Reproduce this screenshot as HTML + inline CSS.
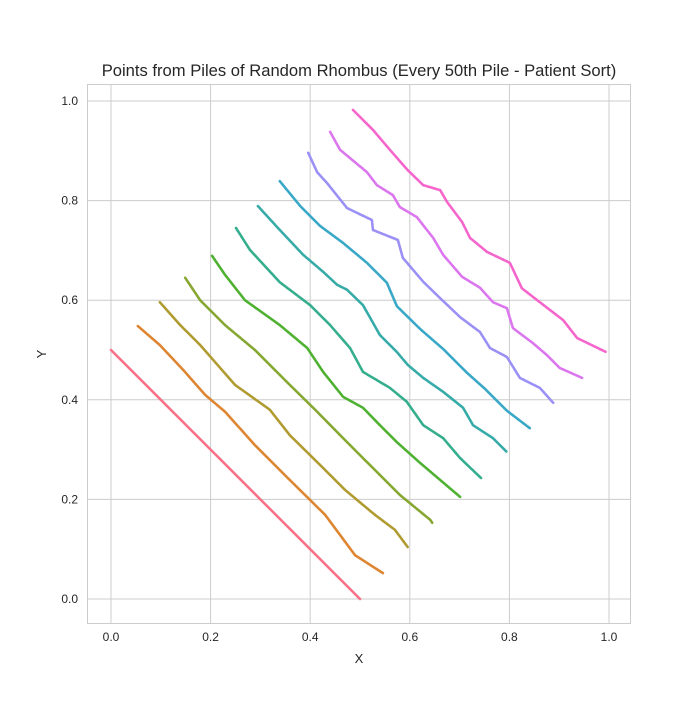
<!DOCTYPE html>
<html><head><meta charset="utf-8"><style>
body{margin:0;background:#fff;font-family:"Liberation Sans",sans-serif}
</style></head><body>
<svg id="chart" width="700" height="700" xmlns="http://www.w3.org/2000/svg" font-family="Liberation Sans, sans-serif">
<rect width="700" height="700" fill="#fff"/>
<g id="grid"></g>
<rect x="87.5" y="84.5" width="543" height="539" fill="none" stroke="#cccccc" stroke-width="1"/>
<g id="marks"></g>
<g id="ticks"></g>
<text x="359" y="76" text-anchor="middle" font-size="16.6" fill="#262626">Points from Piles of Random Rhombus (Every 50th Pile - Patient Sort)</text>
<text x="359" y="663" text-anchor="middle" font-size="13" fill="#262626">X</text>
<text x="46" y="354" text-anchor="middle" font-size="13" fill="#262626" transform="rotate(-90 46 354)">Y</text>
</svg>
<script>
const xTicks=[0,0.2,0.4,0.6,0.8,1.0];
const yTicks=[0,0.2,0.4,0.6,0.8,1.0];
const colors=['#f77189','#de8532','#b09b31','#86a731','#4fb131','#34ae8d','#36aba8','#39a8c7','#9a90f5','#dc76ef','#f565cc'];
const pile0=[[0,0.5],[0.1,0.4],[0.2,0.3],[0.3,0.2],[0.4,0.1],[0.5,0]];
const pile1=[[0.054,0.548],[0.098,0.510],[0.145,0.460],[0.189,0.410],[0.229,0.376],[0.289,0.309],[0.359,0.239],[0.430,0.169],[0.490,0.088],[0.546,0.052]];
const pile2=[[0.098,0.596],[0.139,0.550],[0.179,0.510],[0.249,0.430],[0.319,0.380],[0.359,0.329],[0.420,0.269],[0.470,0.219],[0.530,0.169],[0.570,0.139],[0.596,0.104]];
const pile3=[[0.149,0.645],[0.179,0.600],[0.229,0.550],[0.289,0.500],[0.359,0.430],[0.410,0.380],[0.470,0.319],[0.530,0.259],[0.580,0.209],[0.641,0.159],[0.645,0.153]];
const pile4=[[0.203,0.689],[0.229,0.651],[0.269,0.600],[0.339,0.550],[0.394,0.504],[0.426,0.456],[0.466,0.406],[0.506,0.384],[0.540,0.349],[0.574,0.315],[0.621,0.273],[0.701,0.205]];
const pile5=[[0.251,0.745],[0.279,0.701],[0.339,0.636],[0.400,0.590],[0.440,0.550],[0.480,0.504],[0.506,0.456],[0.560,0.424],[0.594,0.396],[0.627,0.349],[0.667,0.323],[0.701,0.283],[0.743,0.243]];
const pile6=[[0.295,0.789],[0.339,0.741],[0.386,0.691],[0.426,0.657],[0.454,0.631],[0.474,0.621],[0.506,0.590],[0.540,0.530],[0.574,0.496],[0.596,0.470],[0.627,0.444],[0.667,0.416],[0.707,0.384],[0.727,0.349],[0.767,0.323],[0.795,0.295]];
const pile7=[[0.339,0.839],[0.380,0.789],[0.420,0.749],[0.466,0.715],[0.514,0.675],[0.554,0.635],[0.574,0.588],[0.621,0.542],[0.667,0.502],[0.715,0.454],[0.751,0.422],[0.795,0.378],[0.841,0.343]];
const pile8=[[0.396,0.896],[0.414,0.857],[0.434,0.835],[0.474,0.785],[0.524,0.761],[0.526,0.741],[0.576,0.721],[0.586,0.685],[0.627,0.637],[0.661,0.604],[0.701,0.566],[0.741,0.536],[0.761,0.504],[0.795,0.486],[0.821,0.444],[0.861,0.424],[0.888,0.394]];
const pile9=[[0.440,0.938],[0.460,0.902],[0.514,0.857],[0.534,0.831],[0.566,0.811],[0.580,0.787],[0.614,0.767],[0.647,0.725],[0.667,0.691],[0.705,0.647],[0.741,0.625],[0.767,0.596],[0.795,0.584],[0.807,0.544],[0.847,0.514],[0.875,0.490],[0.901,0.464],[0.946,0.444]];
const pile10=[[0.486,0.982],[0.526,0.942],[0.560,0.902],[0.596,0.861],[0.627,0.831],[0.661,0.821],[0.675,0.797],[0.705,0.757],[0.721,0.725],[0.755,0.697],[0.801,0.675],[0.825,0.624],[0.861,0.596],[0.908,0.560],[0.936,0.524],[0.994,0.496]];
const piles=[pile0,pile1,pile2,pile3,pile4,pile5,pile6,pile7,pile8,pile9,pile10];

const NS='http://www.w3.org/2000/svg';
const sx=v=>111+v*498, sy=v=>599-v*498;
const grid=document.getElementById('grid'), ticks=document.getElementById('ticks'), marks=document.getElementById('marks');
xTicks.forEach(t=>{
  const l=document.createElementNS(NS,'line');
  l.setAttribute('x1',sx(t));l.setAttribute('x2',sx(t));l.setAttribute('y1',84);l.setAttribute('y2',624);
  l.setAttribute('stroke','#cccccc');
  
  
  grid.appendChild(l);
  const tx=document.createElementNS(NS,'text');
  tx.setAttribute('x',sx(t));tx.setAttribute('y',641);tx.setAttribute('text-anchor','middle');
  tx.setAttribute('font-size','12');tx.setAttribute('fill','#262626');tx.textContent=t.toFixed(1);
  
  
  ticks.appendChild(tx);
});
yTicks.forEach(t=>{
  const l=document.createElementNS(NS,'line');
  l.setAttribute('y1',sy(t));l.setAttribute('y2',sy(t));l.setAttribute('x1',87);l.setAttribute('x2',631);
  l.setAttribute('stroke','#cccccc');
  
  
  grid.appendChild(l);
  const tx=document.createElementNS(NS,'text');
  tx.setAttribute('x',78);tx.setAttribute('y',sy(t)+4);tx.setAttribute('text-anchor','end');
  tx.setAttribute('font-size','12');tx.setAttribute('fill','#262626');tx.textContent=t.toFixed(1);
  
  
  ticks.appendChild(tx);
});
piles.forEach((p,i)=>{
  const pl=document.createElementNS(NS,'polyline');
  pl.setAttribute('points',p.map(d=>sx(d[0])+','+sy(d[1])).join(' '));
  pl.setAttribute('fill','none');pl.setAttribute('stroke',colors[i]);
  pl.setAttribute('stroke-width','2.6');pl.setAttribute('stroke-linejoin','round');pl.setAttribute('stroke-linecap','round');
  pl.setAttribute('stroke-dasharray','2 1');
  
  
  marks.appendChild(pl);
});
</script>
</body></html>
